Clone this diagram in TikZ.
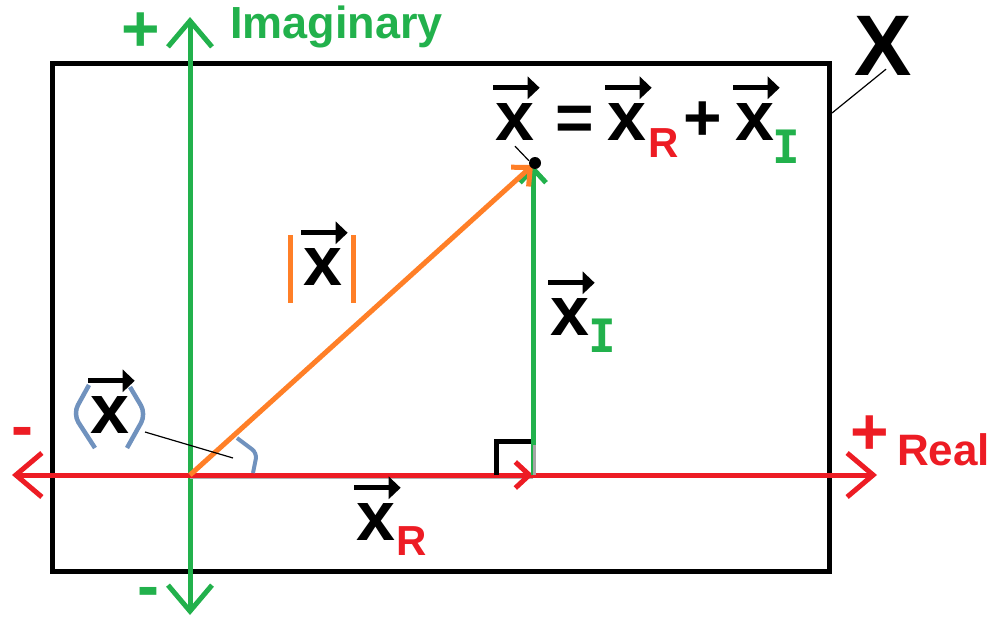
\documentclass[tikz,border=0pt]{standalone}
\usepackage{fontspec}
\setmainfont{Liberation Sans}
\newfontfamily\slabfont{DejaVu Sans Mono}
\usetikzlibrary{arrows.meta,positioning,calc}
\definecolor{imgreen}{HTML}{22B14C}
\definecolor{rered}{HTML}{ED1C24}
\definecolor{absorange}{HTML}{FF7F27}
\definecolor{argblue}{HTML}{7092BE}

\tikzset{
  axisline/.style={line width=5pt, {Straight Barb[length=26pt,width=44pt]}-{Straight Barb[length=26pt,width=44pt]}},
  compvec/.style={line width=5pt, -{Straight Barb[length=14pt,width=26pt]}},
  vecarr/.style={line width=5pt, -{Triangle[length=12pt,width=22pt]}},
  vecx/.style={font=\bfseries\fontsize{70}{70}\selectfont, inner sep=0pt,
    anchor=base, text height=37pt, text depth=0pt},
  sublbl/.style={font=\bfseries\fontsize{42}{42}\selectfont, inner sep=0pt, anchor=base west},
  slablbl/.style={font=\slabfont\bfseries\fontsize{46}{46}\selectfont, inner sep=0pt, anchor=base west},
  signlbl/.style={font=\bfseries\fontsize{66}{66}\selectfont, inner sep=0pt},
  axislbl/.style={font=\bfseries\fontsize{45}{45}\selectfont, inner sep=0pt, anchor=base west},
  leader/.style={line width=1.2pt},
}

\begin{document}
\begin{tikzpicture}[x=1pt, y=-1pt]
  \useasboundingbox (0,0) rectangle (997,621);

  % the space X
  \node[draw, line width=5pt, minimum width=777pt, minimum height=508pt, inner sep=0pt]
    (space) at (440.5,317) {};
  \node[font=\bfseries\fontsize{86}{86}\selectfont, inner sep=0pt, anchor=base] (bigX) at (883,75) {X};
  \coordinate (spacetag) at (832,113);
  \draw[leader] ([xshift=3pt,yshift=6pt]bigX.south) -- (spacetag);

  % axes
  \coordinate (O) at (190,475);
  \coordinate (PR) at (533,475);
  \coordinate (P) at (533,165);
  \coordinate (imtop) at (190,17);
  \coordinate (imbot) at (190,615);
  \coordinate (releft) at (12,475);
  \coordinate (reright) at (877,475);
  \draw[axisline, imgreen] (imbot) -- (imtop);
  \draw[gray!60, line width=3pt] ([yshift=-2pt]O) -- ([yshift=-2pt]PR);
  \draw[axisline, rered] (releft) -- (reright);

  \node[signlbl, imgreen] (implus) at (141,32) {+};
  \node[signlbl, imgreen] (imminus) at (148,598) {-};
  \node[axislbl, imgreen] (imlbl) at (230,38) {Imaginary};
  \node[signlbl, rered] (replus) at (870,435) {+};
  \node[signlbl, rered] (reminus) at (22,438) {-};
  \node[axislbl, rered, font=\bfseries\fontsize{44}{44}\selectfont] (relbl) at (897,465) {Real};

  % components and the vector
  \draw[compvec, rered] (O) -- (PR);
  \draw[gray!70, line width=5pt] (PR) -- ([yshift=-14pt]P);
  \draw[imgreen, line width=2.5pt] ([xshift=-1pt]PR) -- ([xshift=-1pt,yshift=-14pt]P);
  \draw[compvec, imgreen, shorten <=30pt] (PR) -- (P);
  \draw[compvec, absorange] (O) -- (P);
  \fill (535,163) circle (6pt);
  \draw[line width=5pt] ([xshift=-37pt]PR) |- ([xshift=-2pt,yshift=34pt]PR);
  \draw[argblue, line width=4pt, rounded corners=6pt] (237,438) -- (257,453) -- (253,473);

  % equation
  \node[vecx] (xeq) at (515,140) {x};
  \node[signlbl, anchor=base] (eqsign) at (575,140) {=};
  \node[vecx] (xRe) at (627,140) {x};
  \node[sublbl, rered] (subR) at (648,157) {R};
  \node[signlbl, anchor=base] (eqplus) at (703,140) {+};
  \node[vecx] (xIm) at (755,140) {x};
  \node[slablbl, imgreen] (subI) at (772,163) {I};
  \foreach \n in {xeq,xRe,xIm}
    \draw[vecarr] ([xshift=-2pt,yshift=15pt]\n.north west) -- ([xshift=5pt,yshift=15pt]\n.north east);
  \draw[leader, shorten >=6pt] ([yshift=-6pt]xeq.south) -- (P);

  % magnitude
  \node[vecx] (xabs) at (323,285) {x};
  \draw[absorange, line width=5pt] (290,235) -- (290,303);
  \draw[absorange, line width=5pt] (353,235) -- (353,303);

  % argument
  \node[vecx] (xarg) at (110,433) {x};
  \draw[argblue, line width=4.5pt, rounded corners=10pt] (89,385) -- (73,414) -- (95,448);
  \draw[argblue, line width=4.5pt, rounded corners=10pt] (130,387) -- (146,414) -- (127,448);
  \coordinate (argtip) at (233,458);
  \draw[leader] (145,432) -- (argtip);

  % component labels
  \node[vecx] (xIlbl) at (570,335) {x};
  \node[slablbl, imgreen] (subIlbl) at (588,352) {I};
  \node[vecx] (xRlbl) at (376,540) {x};
  \node[sublbl, rered] (subRlbl) at (396,555) {R};
  \foreach \n in {xabs,xarg,xIlbl,xRlbl}
    \draw[vecarr] ([xshift=-2pt,yshift=15pt]\n.north west) -- ([xshift=5pt,yshift=15pt]\n.north east);
\end{tikzpicture}
\end{document}
